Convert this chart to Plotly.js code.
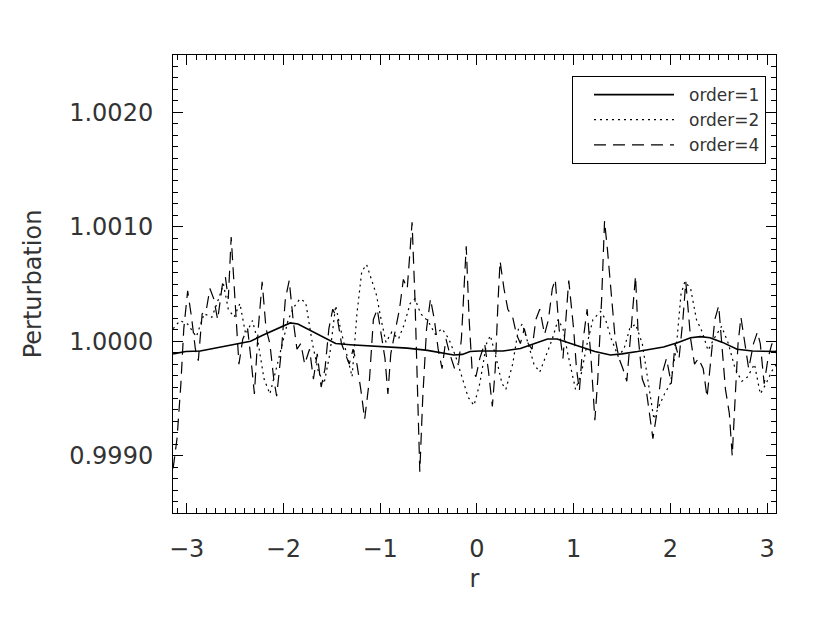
<!DOCTYPE html>
<html>
<head>
<meta charset="utf-8">
<script src="https://cdn.plot.ly/plotly-3.0.1.min.js"></script>
<style>html,body{margin:0;padding:0;background:#fff;}#chart{width:830px;height:624px;}</style>
</head>
<body>
<div id="chart"></div>
<script>
// ---- data ----
var seriesNames = ["order=1", "order=2", "order=4"];

var r1 = [-3.14,-3.01,-2.86,-2.70,-2.50,-2.34,-2.22,-2.09,-2.01,-1.93,-1.85,-1.77,-1.68,-1.58,-1.46,-1.31,-1.13,-0.93,-0.72,-0.51,-0.35,-0.24,-0.15,-0.07,0.03,0.27,0.45,0.60,0.73,0.83,0.94,1.07,1.22,1.38,1.50,1.66,1.93,2.08,2.21,2.31,2.41,2.54,2.69,2.85,3.03,3.10];
var p1 = [0.99989,0.99991,0.999915,0.99994,0.99997,1.00000,1.00005,1.00010,1.00013,1.00016,1.00015,1.000115,1.00007,1.00003,0.99998,0.99997,0.99996,0.99995,0.99994,0.99992,0.99990,0.99988,0.999885,0.99991,0.999915,0.999915,0.999937,0.99998,1.00002,1.00002,0.99999,0.99995,0.99991,0.99988,0.99989,0.99991,0.99995,0.99999,1.00003,1.00004,1.00003,0.99999,0.99993,0.999915,0.99991,0.99991];

var r2 = [-3.14,-3.07,-2.99,-2.90,-2.82,-2.74,-2.67,-2.62,-2.57,-2.51,-2.45,-2.39,-2.32,-2.26,-2.20,-2.14,-2.08,-2.01,-1.95,-1.89,-1.83,-1.77,-1.70,-1.64,-1.58,-1.52,-1.46,-1.41,-1.35,-1.29,-1.24,-1.19,-1.14,-1.09,-1.04,-0.99,-0.94,-0.88,-0.81,-0.75,-0.69,-0.64,-0.58,-0.50,-0.43,-0.36,-0.29,-0.22,-0.15,-0.09,-0.03,0.03,0.10,0.14,0.20,0.26,0.30,0.37,0.43,0.47,0.53,0.59,0.65,0.72,0.78,0.84,0.89,0.94,1.02,1.08,1.14,1.20,1.28,1.33,1.39,1.46,1.52,1.58,1.64,1.71,1.77,1.83,1.87,1.94,2.00,2.06,2.11,2.15,2.21,2.27,2.33,2.39,2.45,2.53,2.60,2.67,2.74,2.80,2.87,2.93,2.99,3.05,3.10];
var p2 = [1.00011,1.00018,1.00015,1.00004,1.00024,1.00021,1.00037,1.00050,1.00028,1.00021,1.00033,1.00006,1.00018,0.99998,0.99967,0.99954,0.99974,0.99998,1.00019,1.00030,1.00037,1.00034,0.99998,0.99974,0.99963,0.99989,1.00031,1.00011,0.99989,0.99969,1.00024,1.00061,1.00067,1.00054,1.00041,1.00019,0.99999,1.00008,1.00002,1.00015,1.00033,1.00037,1.00024,1.00017,1.00006,1.00011,1.00002,0.99987,0.99967,0.99951,0.99944,0.99963,0.99998,1.00005,0.99985,0.99963,0.99958,0.99980,1.00011,1.00015,0.99998,0.99980,0.99973,0.99989,1.00002,1.00019,1.00011,0.99989,0.99958,0.99972,0.99998,1.00019,1.00026,1.00019,1.00002,0.99987,0.99993,1.00011,1.00015,0.99998,0.99967,0.99932,0.99941,0.99954,0.99963,0.99993,1.00041,1.00052,1.00046,1.00019,1.00008,0.99992,1.00002,1.00013,0.99998,0.99976,0.99965,0.99969,0.99980,0.99954,0.99963,0.99974,0.99980];

var r4 = [-3.14,-3.10,-3.06,-3.03,-2.99,-2.95,-2.91,-2.88,-2.84,-2.80,-2.76,-2.72,-2.68,-2.63,-2.60,-2.57,-2.54,-2.50,-2.46,-2.42,-2.37,-2.33,-2.30,-2.26,-2.22,-2.18,-2.14,-2.10,-2.07,-2.02,-1.98,-1.94,-1.90,-1.86,-1.82,-1.78,-1.73,-1.69,-1.65,-1.61,-1.57,-1.53,-1.49,-1.44,-1.40,-1.36,-1.32,-1.28,-1.24,-1.20,-1.16,-1.11,-1.07,-1.03,-0.99,-0.95,-0.92,-0.89,-0.84,-0.80,-0.76,-0.72,-0.69,-0.67,-0.64,-0.61,-0.59,-0.56,-0.52,-0.48,-0.44,-0.40,-0.36,-0.32,-0.28,-0.23,-0.19,-0.16,-0.13,-0.11,-0.08,-0.05,-0.01,0.03,0.08,0.12,0.16,0.19,0.22,0.24,0.28,0.32,0.37,0.41,0.45,0.49,0.53,0.57,0.61,0.65,0.70,0.74,0.78,0.81,0.85,0.89,0.92,0.95,1.00,1.03,1.06,1.10,1.14,1.18,1.22,1.25,1.29,1.32,1.35,1.39,1.43,1.47,1.51,1.55,1.60,1.64,1.67,1.71,1.75,1.79,1.82,1.86,1.90,1.96,2.01,2.05,2.09,2.13,2.16,2.21,2.25,2.29,2.34,2.38,2.42,2.46,2.50,2.53,2.57,2.61,2.64,2.67,2.70,2.73,2.77,2.81,2.86,2.90,2.93,2.97,3.01,3.05,3.10];
var p4 = [0.99889,0.99915,0.99963,1.00011,1.00044,1.00021,0.99993,0.99983,1.00024,1.00026,1.00046,1.00037,1.00019,1.00050,1.00056,1.00037,1.00091,1.00037,0.99980,1.00002,1.00011,0.99980,0.99954,1.00011,1.00052,1.00011,0.99998,0.99967,0.99952,0.99993,1.00037,1.00053,1.00019,0.99993,0.99998,0.99980,0.99993,0.99967,0.99989,0.99960,0.99976,1.00011,1.00028,1.00019,0.99998,0.99989,0.99980,0.99993,0.99980,0.99958,0.99932,0.99967,1.00019,1.00028,1.00006,0.99985,0.99954,0.99989,1.00011,1.00028,1.00054,1.00046,1.00080,1.00104,1.00037,0.99932,0.99886,0.99950,1.00011,1.00037,1.00019,0.99993,0.99976,1.00002,0.99989,0.99976,0.99980,1.00002,1.00046,1.00083,1.00019,0.99976,0.99969,0.99985,0.99998,0.99974,0.99943,0.99976,1.00037,1.00070,1.00046,1.00028,1.00021,1.00006,0.99998,1.00011,0.99998,0.99993,1.00019,1.00028,1.00006,1.00019,1.00046,1.00054,1.00011,0.99985,1.00019,1.00053,1.00011,0.99976,0.99957,1.00002,1.00028,0.99985,0.99931,0.99967,1.00037,1.00105,1.00080,1.00037,1.00002,0.99985,0.99976,0.99965,1.00019,1.00057,1.00002,0.99967,0.99958,0.99932,0.99915,0.99937,0.99967,0.99985,0.99963,0.99998,0.99985,1.00019,1.00052,1.00002,0.99980,0.99985,0.99976,0.99951,0.99985,1.00019,1.00031,1.00002,0.99958,0.99937,0.99900,0.99950,0.99998,1.00021,0.99998,0.99976,0.99998,1.00008,0.99998,0.99963,0.99985,0.99998,0.99989];

var xTickVals = [-3, -2, -1, 0, 1, 2, 3];
var xTickText = ["\u22123", "\u22122", "\u22121", "0", "1", "2", "3"];
var yTickVals = [0.999, 1.000, 1.001, 1.002];
var yTickText = ["0.9990", "1.0000", "1.0010", "1.0020"];
var xRange = [-3.1416, 3.0925];
var yRange = [0.9985, 1.0025];

// ---- plot ----
var FONT = "DejaVu Sans, Liberation Sans, sans-serif";
var traces = [
  {x: r1, y: p1, name: seriesNames[0], mode: "lines", line: {color: "#000", width: 1.6, dash: "solid"}},
  {x: r2, y: p2, name: seriesNames[1], mode: "lines", line: {color: "#000", width: 1.2, dash: "2px,4px"}},
  {x: r4, y: p4, name: seriesNames[2], mode: "lines", line: {color: "#000", width: 1.2, dash: "12px,7px"}}
];

var axisCommon = {
  showline: true, linecolor: "#000", linewidth: 1, mirror: "allticks",
  ticks: "inside", ticklen: 10, tickwidth: 1, tickcolor: "#000",
  showgrid: false, zeroline: false,
  tickfont: {family: FONT, size: 24, color: "#333"}
};

var layout = {
  width: 830, height: 624,
  margin: {l: 173, r: 54, t: 55, b: 111, pad: 0},
  paper_bgcolor: "#fff", plot_bgcolor: "#fff",
  showlegend: true,
  legend: {
    x: 0.9834, xanchor: "right", y: 0.954, yanchor: "top",
    bgcolor: "#fff", bordercolor: "#000", borderwidth: 1,
    font: {family: FONT, size: 17, color: "#333"},
    itemwidth: 90, indentation: 16, tracegroupgap: 0
  },
  xaxis: Object.assign({}, axisCommon, {
    range: xRange, tickmode: "array", tickvals: xTickVals, ticktext: xTickText,
    ticklabelstandoff: 14,
    minor: {ticks: "inside", ticklen: 5, tickwidth: 1, tickcolor: "#000", tickmode: "linear", tick0: 0, dtick: 0.1, showgrid: false},
    title: {text: "r", font: {family: FONT, size: 24, color: "#333"}, standoff: 8}
  }),
  yaxis: Object.assign({}, axisCommon, {
    range: yRange, tickmode: "array", tickvals: yTickVals, ticktext: yTickText,
    ticklabelstandoff: 14,
    minor: {ticks: "inside", ticklen: 5, tickwidth: 1, tickcolor: "#000", tickmode: "linear", tick0: 1, dtick: 0.0001, showgrid: false},
    title: {text: "Perturbation", font: {family: FONT, size: 24, color: "#333"}, standoff: 20}
  })
};

Plotly.newPlot("chart", traces, layout, {staticPlot: true, displayModeBar: false}).then(function (gd) {
  // shorten the legend sample lines so a gap remains before the text, as in the reference
  gd.querySelectorAll(".legend .legendlines path").forEach(function (p) {
    p.setAttribute("d", "M5,0h80");
  });
});
</script>
</body>
</html>
